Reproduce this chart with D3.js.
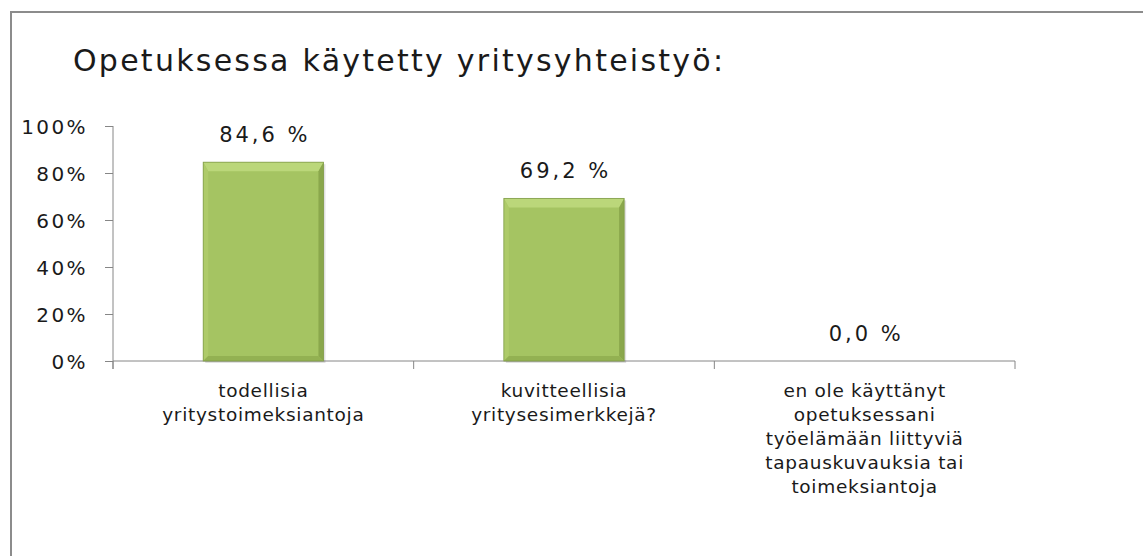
<!DOCTYPE html>
<meta charset="utf-8">
<script src="https://d3js.org/d3.v7.min.js"></script>
<style>
  body { margin: 0; background: #fff; overflow: hidden; }
  text { font-family: "DejaVu Sans", Verdana, sans-serif; fill: #1a1a1a; }
</style>
<div id="chart"></div>
<script>
// data
const categories = [
  ["todellisia", "yritystoimeksiantoja"],
  ["kuvitteellisia", "yritysesimerkkejä?"],
  ["en ole käyttänyt", "opetuksessani", "työelämään liittyviä", "tapauskuvauksia tai", "toimeksiantoja"]
];
const values = [0.846, 0.692, 0.0];
const valueLabels = ["84,6 %", "69,2 %", "0,0 %"];
const yTicks = [0, 0.2, 0.4, 0.6, 0.8, 1.0];
const title = "Opetuksessa käytetty yritysyhteistyö:";

const W = 1143, H = 556;
const margin = {top: 126, left: 113, right: 128, bottom: 195};
const width = W - margin.left - margin.right,
      height = H - margin.top - margin.bottom;

const svg = d3.select("#chart").append("svg")
    .attr("width", W).attr("height", H).style("display", "block");

// outer frame: only top and left edges are visible in the original
svg.append("path")
    .attr("d", `M11,${H}V12H${W}`)
    .attr("fill", "none").attr("stroke", "#8c8c8c").attr("stroke-width", 2);

svg.append("text")
    .attr("x", 73).attr("y", 71)
    .attr("font-size", 30)
    .attr("letter-spacing", 2.25)
    .text(title);

const g = svg.append("g").attr("transform", `translate(${margin.left},${margin.top})`);

const x = d3.scaleBand().domain(d3.range(values.length)).range([0, width]).padding(0);
const y = d3.scaleLinear().domain([0, 1]).range([height, 0]);

// y axis
const yAxis = g.append("g")
    .call(d3.axisLeft(y).tickValues(yTicks).tickFormat(d3.format(".0%")).tickSize(8).tickPadding(17));
yAxis.select(".domain").attr("stroke", "#868686").attr("d", `M0,0V${height + 8}`);
yAxis.selectAll(".tick line").attr("stroke", "#868686");
yAxis.selectAll(".tick text")
    .attr("font-size", 20).attr("letter-spacing", 2.4)
    .attr("fill", "#1a1a1a").attr("font-family", "DejaVu Sans, Verdana, sans-serif")
    .attr("dy", "0.36em");

// x axis: category boundary ticks
const xAxis = g.append("g").attr("transform", `translate(0,${height})`);
xAxis.append("line").attr("x1", 0).attr("x2", width).attr("stroke", "#868686");
xAxis.selectAll(".bt").data(d3.range(values.length + 1)).join("line")
    .attr("x1", d => d === values.length ? width : x(d))
    .attr("x2", d => d === values.length ? width : x(d))
    .attr("y1", 0).attr("y2", 8).attr("stroke", "#868686");

// bars with bevel
const barW = x.bandwidth() * 0.4;
g.selectAll(".bar").data(values).join("g").attr("class", "bar")
    .each(function(v, i) {
      if (v <= 0) return;
      const gg = d3.select(this);
      const x0 = x(i) + (x.bandwidth() - barW) / 2, x1 = x0 + barW;
      const y0 = y(v), y1 = y(0);
      const bt = 9, bs = 5, bb = 5;
      // shadow
      gg.append("rect").attr("x", x0 + 2).attr("y", y0 + 2).attr("width", barW).attr("height", y1 - y0)
        .attr("fill", "#000").attr("opacity", 0.12);
      gg.append("rect").attr("x", x0).attr("y", y0).attr("width", barW).attr("height", y1 - y0)
        .attr("fill", "#a5c462");
      const poly = (pts, c) => gg.append("path").attr("d", "M" + pts.map(p => p.join(",")).join("L") + "Z").attr("fill", c);
      poly([[x0, y0], [x1, y0], [x1 - bs, y0 + bt], [x0 + bs, y0 + bt]], "#bbd77a");
      poly([[x0, y0], [x0 + bs, y0 + bt], [x0 + bs, y1 - bb], [x0, y1]], "#aecb69");
      poly([[x1, y0], [x1, y1], [x1 - bs, y1 - bb], [x1 - bs, y0 + bt]], "#8aa74c");
      poly([[x0, y1], [x0 + bs, y1 - bb], [x1 - bs, y1 - bb], [x1, y1]], "#93b152");
      gg.append("rect").attr("x", x0).attr("y", y0).attr("width", barW).attr("height", y1 - y0)
        .attr("fill", "none").attr("stroke", "#819c4a").attr("stroke-width", 0.8);
    });

// value labels
g.selectAll(".vl").data(values).join("text")
    .attr("x", (d, i) => x(i) + x.bandwidth() / 2 + 1.5)
    .attr("y", d => y(d) - 20)
    .attr("text-anchor", "middle")
    .attr("font-size", 21).attr("letter-spacing", 3)
    .text((d, i) => valueLabels[i]);

// category labels
categories.forEach((lines, i) => {
  const t = g.append("text")
      .attr("text-anchor", "middle")
      .attr("font-size", 18.5).attr("letter-spacing", 0.7);
  lines.forEach((l, j) => t.append("tspan")
      .attr("x", x(i) + x.bandwidth() / 2)
      .attr("y", height + 36 + j * 24)
      .text(l));
});
</script>
